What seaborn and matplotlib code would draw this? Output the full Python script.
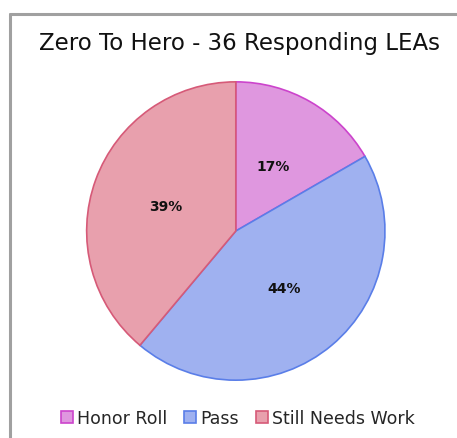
import matplotlib
matplotlib.use('Agg')
import matplotlib.pyplot as plt
import seaborn as sns
from matplotlib.patches import Patch
from matplotlib.lines import Line2D

sns.set_style('white')

# responding LEAs by category (36 total)
categories = ['Honor Roll', 'Pass', 'Still Needs Work']
counts = [6, 16, 14]
face_colors = ['#df97df', '#9fb1f0', '#e8a0ad']
edge_colors = ['#cc44cc', '#5a7ee8', '#d65a78']

fig = plt.figure(figsize=(4.57, 4.39), dpi=100)
fig.patch.set_facecolor('white')

# screenshot frame shadow on top/left
fig.add_artist(Line2D([0.022, 1.0], [0.965, 0.965], color='#a0a0a0', lw=2.2))
fig.add_artist(Line2D([0.022, 0.022], [0.0, 0.965], color='#a0a0a0', lw=2.2))

ax = fig.add_axes([0.188, 0.130, 0.656, 0.683])
wedges, texts, autotexts = ax.pie(
    counts, colors=face_colors, startangle=90, counterclock=False,
    autopct=lambda p: f'{p:.0f}%', pctdistance=0.5,
    wedgeprops=dict(linewidth=1.2))
for w, ec in zip(wedges, edge_colors):
    w.set_edgecolor(ec)
for t in autotexts:
    t.set_fontsize(10)
    t.set_fontweight('bold')
    t.set_color('#111111')
ax.set_xlim(-1.005, 1.005)
ax.set_ylim(-1.005, 1.005)
ax.set_aspect('equal')

fig.text(0.523, 0.902, 'Zero To Hero - 36 Responding LEAs', ha='center', va='center',
         fontsize=16.5, color='#111111')

handles = [Patch(facecolor=fc, edgecolor=ec, linewidth=1.2) for fc, ec in zip(face_colors, edge_colors)]
fig.legend(handles, categories, loc='center', bbox_to_anchor=(0.52, 0.045), ncol=3,
           frameon=False, fontsize=12.5, handlelength=0.7, handleheight=0.7,
           handletextpad=0.2, columnspacing=1.0)

fig.savefig('out.png', dpi=100)
